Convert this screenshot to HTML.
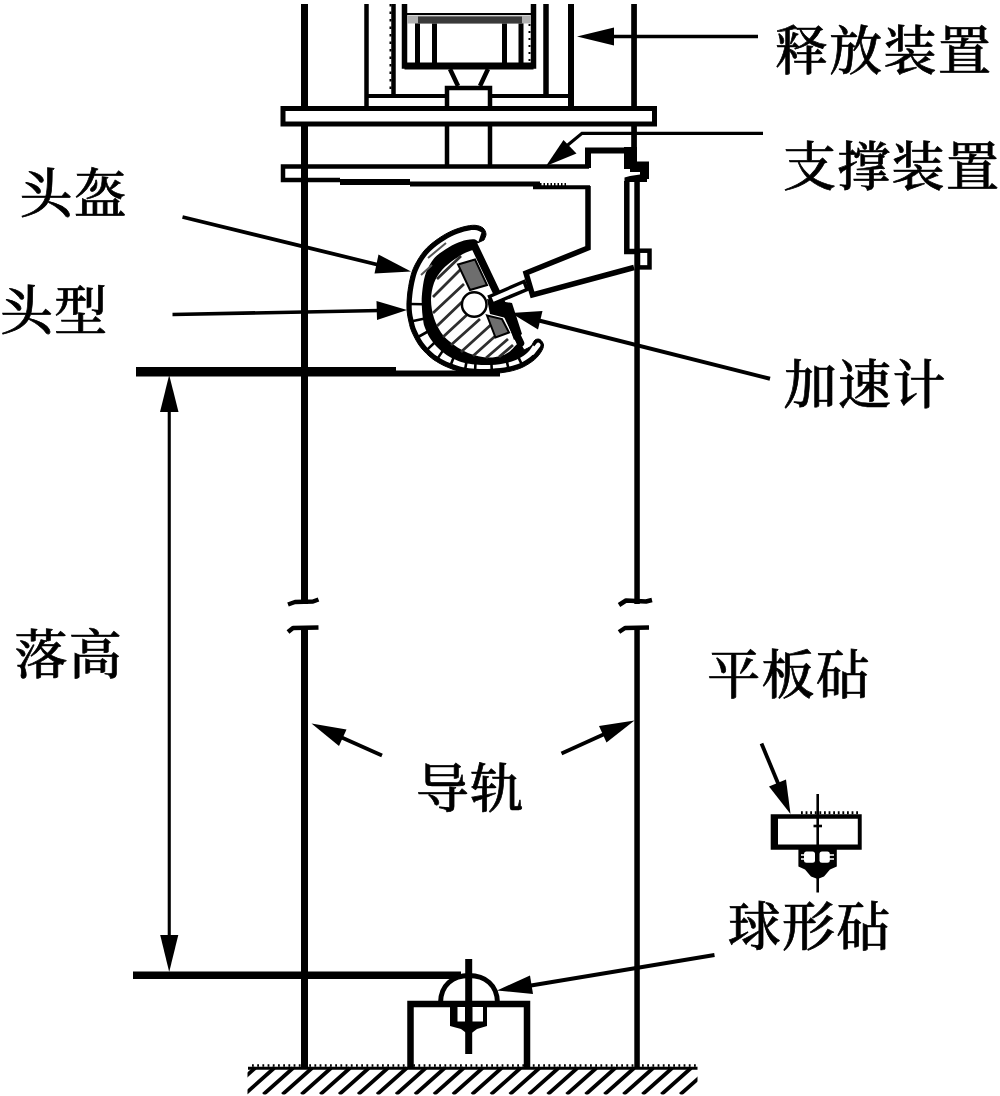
<!DOCTYPE html>
<html lang="zh-CN">
<head>
<meta charset="utf-8">
<title>头盔冲击试验装置示意图</title>
<style>
html,body{margin:0;padding:0;background:#fff;}
body{width:1000px;height:1096px;overflow:hidden;position:relative;}
svg{display:block;position:absolute;left:0;top:0;}
text{font-family:"Liberation Serif","Noto Serif CJK SC",serif;font-size:53px;letter-spacing:1.3px;font-weight:500;fill:#000;stroke:#000;stroke-width:0.7px;paint-order:stroke fill;}
.k{stroke:#000;fill:none;}
.f{fill:#000;stroke:none;}
</style>
</head>
<body>
<svg width="1000" height="1096" viewBox="0 0 1000 1096">
<rect width="1000" height="1096" fill="#fff"/>

<!-- guide rails -->
<g id="rails" class="f">
<rect x="301" y="4" width="7" height="600"/>
<rect x="301" y="627" width="7" height="440"/>
<rect x="631.200" y="4" width="5.700" height="160"/>
<rect x="634.300" y="178" width="5.500" height="426"/>
<rect x="634.300" y="627" width="5.500" height="440"/>
</g>
<!-- break marks -->
<g id="breaks" class="k" stroke-width="4.500" stroke-linecap="butt" stroke-linejoin="round">
<path d="M288 604.500L295 602L313 601.500L318.500 599.500"/>
<path d="M288 632L293 628L318.500 627.500"/>
<path d="M619 605L626 600.500L646 601.500L652 600"/>
<path d="M619 632L625 628L649 627.500"/>
</g>

<!-- release device -->
<g id="release" class="k" stroke-width="4.5">
<path d="M366.5 4V106"/>
<path d="M571 4V106" stroke-width="6"/>
<path d="M393.500 4V96" stroke-width="4.500"/>
<path d="M390.500 4V96" stroke-width="2" stroke-dasharray="2.500 5"/>
<path d="M529.500 24V62" stroke-width="2" stroke-dasharray="2 5"/>
<path d="M546 4V96" stroke-width="5.5"/>
<path d="M366 96H447M490 96H571" stroke-width="4"/>
<path d="M404.5 4V66H533.5V4" stroke-width="5.5"/>
<path d="M404.5 66H533.5" stroke-width="7"/>
<path d="M417.5 22V64M434.5 22V64M504.5 22V64M521 22V64" stroke-width="5"/>
<path d="M407 19.500H531" stroke="#b0b0b0" stroke-width="8"/>
<path d="M418 20H522" stroke="#3a3a3a" stroke-width="7"/>
<path d="M407 14H531" stroke="#000" stroke-width="2"/>
<path d="M450 69L458 86M488 69L480 86" stroke-width="4.5"/>
<path d="M447 106V88H490V106" stroke-width="4.500"/>
<rect x="283" y="108.500" width="371.500" height="15.500" stroke-width="5" fill="#fff"/>
<path d="M447 126V165M490 126V165" stroke-width="4.5"/>
</g>

<!-- support device -->
<g id="support" class="k" stroke-width="4.5">
<path d="M589 166.500H283V180H340" stroke-width="4.500"/>
<path d="M340 182H410" stroke-width="6"/>
<path d="M410 184H540" stroke-width="5"/>
<path d="M533 187.200H590" stroke-width="4"/>
<path d="M540 184.500H568" stroke-width="3" stroke-dasharray="1.500 2"/>
<path d="M588 168V150.500H631" stroke-width="6"/>
<path d="M624 147H637V161.500H649V179H647V182H624.500V177.500L630 176L640 174.500V172H630V169H624Z" class="f"/>
<path d="M588 186V248L526 273L532.500 295L634 267.500" stroke-width="5.500"/>
<path d="M626.800 181V251.500H636" stroke-width="5.500"/>
<rect x="638" y="250.700" width="11.500" height="16.700" stroke-width="4.500"/>
</g>

<!-- helmet + headform -->
<g id="helmet">
<path d="M484.0 240.0C484.3 239.0 486.2 236.0 486.0 234.0C485.8 232.0 484.8 229.4 483.0 228.0C481.2 226.6 478.3 225.5 475.0 225.3C471.7 225.1 467.2 225.9 463.0 227.0C458.8 228.1 454.2 229.7 449.5 232.0C444.8 234.3 439.2 237.8 435.0 241.0C430.8 244.2 427.3 247.0 424.0 251.0C420.7 255.0 417.3 260.5 415.0 265.0C412.7 269.5 411.6 273.0 410.4 278.0C409.1 283.0 408.1 289.7 407.5 295.0C406.9 300.3 406.8 305.5 407.0 310.0C407.2 314.5 408.2 318.3 409.0 322.0C409.8 325.7 410.3 328.2 412.0 332.0C413.7 335.8 416.2 341.0 419.0 345.0C421.8 349.0 425.7 353.0 429.0 356.0C432.3 359.0 435.6 361.0 439.0 363.0C442.4 365.0 445.7 366.5 449.5 368.0C453.3 369.5 457.8 371.1 462.0 372.0C466.2 372.9 470.0 373.2 475.0 373.5C480.0 373.8 486.3 373.8 492.0 373.5C497.7 373.2 503.8 372.6 509.0 371.5C514.2 370.4 518.8 369.0 523.0 367.0C527.2 365.0 531.5 362.1 534.5 359.6C537.5 357.1 539.5 354.4 541.0 352.0C542.5 349.6 543.7 347.1 543.5 345.0C543.3 342.9 541.4 340.3 540.0 339.5C538.6 338.7 536.5 338.9 535.0 340.0C533.5 341.1 532.8 344.3 531.0 346.0C529.2 347.7 525.2 349.3 524.0 350.0L520 343L473 245Z" fill="#000" stroke="#000" stroke-width="1" stroke-linejoin="round"/>
<path d="M481.5 232.5C480.3 232.1 477.6 230.2 474.8 230.1C471.9 229.9 468.1 230.6 464.2 231.6C460.4 232.7 456.0 234.1 451.6 236.3C447.3 238.5 441.9 241.9 437.9 244.8C433.9 247.8 430.8 250.4 427.7 254.1C424.6 257.8 421.4 263.0 419.3 267.2C417.2 271.3 416.2 274.4 415.1 279.2C413.9 283.9 412.8 290.4 412.3 295.5C411.7 300.6 411.6 305.5 411.8 309.7C412.0 314.0 412.9 317.5 413.7 320.9C414.4 324.3 414.9 326.5 416.4 330.1C417.9 333.6 420.3 338.5 422.9 342.2C425.6 345.9 429.1 349.7 432.2 352.4C435.3 355.2 438.3 357.0 441.4 358.9C444.6 360.7 447.7 362.1 451.2 363.5C454.8 364.9 459.0 366.4 463.0 367.3C467.0 368.2 470.5 368.5 475.2 368.7C480.0 368.9 486.3 369.0 491.7 368.7C497.2 368.4 503.1 367.8 508.0 366.8C512.9 365.8 517.1 364.5 521.0 362.7C524.9 360.8 528.7 358.2 531.4 355.9C534.2 353.6 536.4 350.1 537.4 348.9L533.0 345.2C532.2 346.3 530.4 349.7 528.1 351.9C525.8 354.1 522.5 356.6 519.0 358.4C515.5 360.2 511.7 361.6 507.2 362.7C502.6 363.8 496.8 364.7 491.5 365.0C486.2 365.3 480.0 364.9 475.4 364.5C470.9 364.1 467.7 363.7 464.0 362.7C460.3 361.7 456.4 360.2 453.1 358.7C449.9 357.2 447.2 355.4 444.6 353.5C441.9 351.6 439.5 349.8 437.0 347.1C434.5 344.4 431.7 340.9 429.6 337.5C427.5 334.1 425.6 329.7 424.5 326.6C423.4 323.4 423.4 321.7 423.0 318.8C422.6 315.9 422.2 312.9 422.0 309.2C421.8 305.5 421.5 301.2 421.8 296.5C422.1 291.9 422.9 285.6 423.7 281.3C424.6 277.1 425.1 274.6 426.7 270.9C428.4 267.2 430.9 262.3 433.6 259.0C436.3 255.7 439.0 253.8 442.7 251.3C446.3 248.8 451.4 245.6 455.4 243.8C459.3 241.9 463.3 240.8 466.4 240.1C469.6 239.3 472.3 239.0 474.3 239.3C476.3 239.6 477.7 241.3 478.4 241.7Z" fill="#fff" stroke="none"/>
<path d="M410.2 304.0L423.9 304.2M411.9 321.3L424.9 318.4M418.1 337.0L428.8 331.0M427.2 349.6L435.5 341.8M437.7 358.4L443.4 349.9M450.6 365.2L453.9 356.8M465.1 369.4L466.6 361.1M475.1 370.5L475.5 362.5M491.8 370.5L491.4 363.0M508.4 368.6L506.7 360.7M521.7 364.3L518.1 356.6" fill="none" stroke="#000" stroke-width="2.600"/>
<path d="M532.500 352.500L538.300 345" fill="none" stroke="#fff" stroke-width="4.500" stroke-linecap="round"/>
<path d="M475.0 249.5C473.5 250.0 469.4 250.9 466.0 252.5C462.6 254.1 458.6 256.4 454.6 259.3C450.6 262.2 445.4 266.1 442.0 270.0C438.6 273.9 435.8 278.0 434.0 283.0C432.2 288.0 431.0 294.2 431.0 300.0C431.0 305.8 432.3 312.6 434.0 318.0C435.7 323.4 438.5 328.6 441.0 332.4C443.5 336.2 446.2 338.4 449.0 341.0C451.8 343.6 454.8 345.7 458.0 347.7C461.2 349.7 464.6 351.6 468.0 353.0C471.4 354.4 474.7 355.4 478.4 356.2C482.1 356.9 486.3 357.5 490.0 357.5C493.7 357.5 497.3 356.9 500.5 356.0C503.7 355.1 506.2 354.0 509.0 352.0C511.8 350.0 515.7 345.3 517.0 344.0Z" fill="#fff" stroke="none"/>
<g stroke="#2e2e2e" stroke-width="2.800" fill="none">
<path d="M437 279L461 256M433 297L468 262M433 313L464 284M437 326L462 302M443 337L470 312M451 345L480 319M461 352L494 322M473 356L502 330M486 358L508 339M499 357L513 345"/>
</g>
<path d="M458 264.500L475 259.500L487 285L470 290Z" fill="#6e6e6e" stroke="#000" stroke-width="2"/>
<path d="M487 315.500L502 319L509 332.500L495.500 337.500Z" fill="#6e6e6e" stroke="#000" stroke-width="2"/>
<path d="M474.500 246L520.500 343" class="k" stroke-width="7.500" stroke-linecap="round"/>
<path d="M428 258L446 243M421 275L432 265" stroke="#555" stroke-width="2" fill="none"/>
<path d="M487 299L512 303L522 334L514 340L506 318L490 314Z" class="f"/>
<circle cx="474.200" cy="304.500" r="12.300" fill="#fff" stroke="#000" stroke-width="2.500"/>
<path d="M489.500 296.500L524 281.500L527 289.500L492.500 304Z" fill="#fff" stroke="#000" stroke-width="3.500"/>
</g>

<!-- height reference lines -->
<g id="height" class="f">
<rect x="136" y="367" width="260" height="9.500"/>
<rect x="396" y="370.500" width="104" height="6"/>
<rect x="133" y="971.500" width="328" height="7.500"/>
<rect x="167.700" y="400" width="3.100" height="548"/>
<path d="M169.200 375L178.500 412H160Z"/>
<path d="M169.200 972L178.300 935H160.200Z"/>
</g>

<!-- leader arrows -->
<g id="leaders" class="k" stroke-width="3.200">
<path d="M600 36.500H758" stroke-width="3.600"/>
<path d="M577 36.500L614 27.500V45.500Z" class="f"/>
<path d="M763 133.300H582L566 146.500" stroke-width="3.200"/>
<path d="M546 166L563.500 140L576.500 153.500Z" class="f"/>
<path d="M182.500 217L385 266.500" stroke-width="3.800"/>
<path d="M411 271.500L374.500 273.500L378.500 254.500Z" class="f"/>
<path d="M172.500 314.500L380 310.500" stroke-width="3.600"/>
<path d="M407 310L377 320L376.500 301Z" class="f"/>
<path d="M770 378.800L535 319.500" stroke-width="4"/>
<path d="M511 313L542.500 311L538 329.500Z" class="f"/>
<path d="M382 755.500L335 734.500" stroke-width="3.800"/>
<path d="M311.500 723.500L346.500 729.500L339 746Z" class="f"/>
<path d="M561.500 753.500L610 731.500" stroke-width="3.800"/>
<path d="M634.500 720.500L606.500 742.500L599 726Z" class="f"/>
<path d="M761.500 743.500L780 788" stroke-width="3.800"/>
<path d="M790.500 814L769 786.500L786 779.500Z" class="f"/>
<path d="M714.500 955L525 986.500" stroke-width="3.900"/>
<path d="M497 990.500L530 975.500L533 994Z" class="f"/>
</g>

<!-- flat anvil (small) -->
<g id="flat" class="k">
<path d="M770.700 814.200H861.700V849.700H770.700ZM778 818.800V844.400H857.800V818.800Z" fill="#000" fill-rule="evenodd" stroke="none"/>
<path d="M801 812.800H859" stroke-width="3" stroke-dasharray="1.800 2.800"/>
<path d="M817.700 794V892.500" stroke-width="2.600"/>
<path d="M813.500 826H822" stroke-width="2.600"/>
<path d="M798.400 849H836.800V866.500L830 869.500L824 876.500L817.700 879L811 876.500L805 869.500L798.400 866.500Z" class="f"/>
<rect x="804" y="851.500" width="11" height="11.300" rx="2.500" fill="#fff" stroke="none"/>
<rect x="819.500" y="851.500" width="10.300" height="11.300" rx="2.500" fill="#fff" stroke="none"/>
<path d="M817.700 849V870" stroke-width="2.600"/>
<path d="M801 855H805M801 859H805M829 855H834M829 859H834" stroke="#fff" stroke-width="1.300"/>
</g>

<!-- ball anvil -->
<g id="ball" class="k">
<path d="M440.500 1003C440.500 985 453 975.500 469 975.500C485 975.500 497.500 985 497.500 1003" stroke-width="5"/>
<path d="M410.500 1067V1004H527V1067" stroke-width="6.500"/>
<path d="M468.700 959V1054" stroke-width="7"/>
<path d="M450 1007H487V1026L477 1029L469 1035L461 1029L450 1026Z" class="f"/>
<rect x="457.500" y="1007" width="7.500" height="14.500" fill="#fff" stroke="none"/>
<rect x="472.500" y="1007" width="10.500" height="14.500" fill="#fff" stroke="none"/>
</g>

<!-- ground -->
<g id="ground" class="k">
<clipPath id="gc"><rect x="247.500" y="1060" width="450" height="34.500"/></clipPath>
<path d="M248 1068.200H697.500" stroke-width="3"/>
<path d="M252 1065.500H697" stroke-width="2.500" stroke-dasharray="1.800 3.400"/>
<g stroke-width="3.700" id="hatch" clip-path="url(#gc)">
<path d="M255.2 1068L225.6 1094.5"/>
<path d="M274.2 1068L244.5 1094.5"/>
<path d="M293.1 1068L263.4 1094.5"/>
<path d="M312.1 1068L282.4 1094.5"/>
<path d="M331.1 1068L301.4 1094.5"/>
<path d="M350.0 1068L320.3 1094.5"/>
<path d="M368.9 1068L339.2 1094.5"/>
<path d="M387.9 1068L358.2 1094.5"/>
<path d="M406.8 1068L377.1 1094.5"/>
<path d="M425.8 1068L396.1 1094.5"/>
<path d="M444.7 1068L415.0 1094.5"/>
<path d="M463.7 1068L434.0 1094.5"/>
<path d="M482.6 1068L452.9 1094.5"/>
<path d="M501.6 1068L471.9 1094.5"/>
<path d="M520.6 1068L490.9 1094.5"/>
<path d="M539.5 1068L509.8 1094.5"/>
<path d="M558.5 1068L528.8 1094.5"/>
<path d="M577.4 1068L547.7 1094.5"/>
<path d="M596.4 1068L566.6 1094.5"/>
<path d="M615.3 1068L585.6 1094.5"/>
<path d="M634.2 1068L604.5 1094.5"/>
<path d="M653.2 1068L623.5 1094.5"/>
<path d="M672.2 1068L642.5 1094.5"/>
<path d="M691.1 1068L661.4 1094.5"/>
<path d="M710.0 1068L680.3 1094.5"/>
</g>
</g>

<!-- labels -->
<g id="labels">
<text x="775" y="70.2">释放装置</text>
<text x="783" y="186.4">支撑装置</text>
<text x="19.4" y="213.2">头盔</text>
<text x="-0.1" y="329.7">头型</text>
<text x="783.8" y="404">加速计</text>
<text x="14.5" y="673.9">落高</text>
<text x="415.9" y="807.5">导轨</text>
<text x="707.3" y="693.6">平板砧</text>
<text x="727.8" y="946">球形砧</text>
</g>
</svg>
</body>
</html>
